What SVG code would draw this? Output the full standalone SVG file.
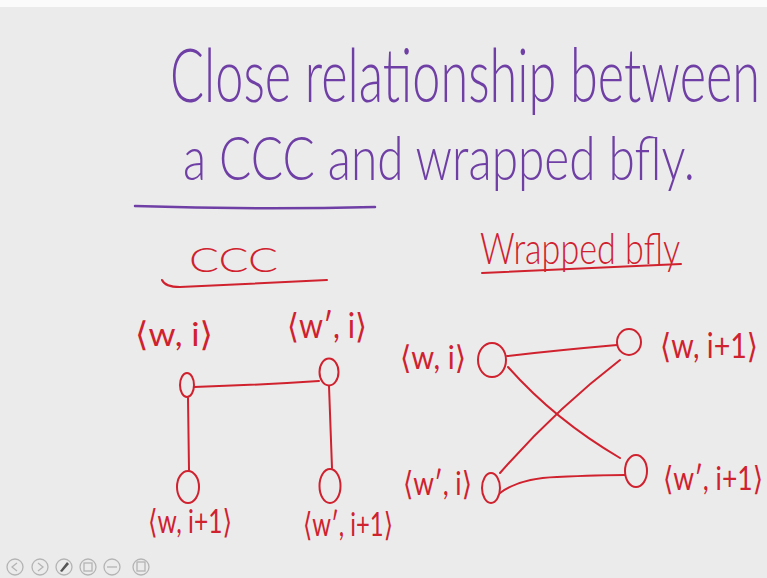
<svg xmlns="http://www.w3.org/2000/svg" width="767" height="578" viewBox="0 0 767 578">
  <style>
    .title { font-family: Lato, "Open Sans", "DejaVu Sans", sans-serif; font-weight: 300; fill: #6f3fa6; }
    .red { font-family: Lato, "Open Sans", "DejaVu Sans", sans-serif; font-weight: 300; fill: #d0212e; }
    .lbl { font-family: Lato, "DejaVu Sans", sans-serif; fill: #d0212e; }
    .edge { fill: none; stroke: #d0212e; stroke-width: 2; stroke-linecap: round; }
    .node { fill: none; stroke: #d0212e; stroke-width: 2; }
    .pline { fill: none; stroke: #6f3fa6; stroke-width: 2.5; stroke-linecap: round; }
    .icon { fill: none; stroke: #b4b4b4; stroke-width: 1.3; }
  </style>

  <!-- page -->
  <rect x="0" y="0" width="767" height="578" fill="#ebebeb"/>
  <rect x="0" y="0" width="767" height="7" fill="#fbfbfb"/>

  <!-- heading: narrow, tall lettering (vertical stretch) -->
  <g id="heading">
    <text class="title" transform="translate(170,102) scale(1,2.0)" font-size="37" textLength="590" lengthAdjust="spacingAndGlyphs">Close relationship between</text>
    <text class="title" transform="translate(183,180) scale(1,1.7)" font-size="36" textLength="512" lengthAdjust="spacingAndGlyphs">a CCC and wrapped bfly.</text>
    <path class="pline" d="M135,206 Q255,210 375,207"/>
  </g>

  <!-- section titles -->
  <g id="title-ccc">
    <text class="red" x="189" y="272" font-size="34" textLength="89" lengthAdjust="spacingAndGlyphs">CCC</text>
    <path class="edge" d="M162,280 Q165,287 180,287 L327,280"/>
  </g>
  <g id="title-bfly">
    <text class="red" transform="translate(480,264) scale(1,1.6)" font-size="27" textLength="200" lengthAdjust="spacingAndGlyphs">Wrapped bfly</text>
    <path class="edge" d="M482,273 Q580,269 681,264"/>
  </g>

  <!-- connectors -->
  <g id="connectors">
    <!-- CCC -->
    <path class="edge" d="M194,387 Q260,385 319,381"/>
    <path class="edge" d="M188,398 L189,470"/>
    <path class="edge" d="M329,386 L332,468"/>
    <!-- wrapped butterfly -->
    <path class="edge" d="M507,356 Q560,350 617,345"/>
    <path class="edge" d="M508,367 Q555,420 620,458"/>
    <path class="edge" d="M500,473 Q555,410 620,360"/>
    <path class="edge" d="M500,493 Q520,478 557,477 Q600,475 625,475"/>
  </g>

  <!-- CCC nodes -->
  <g id="ccc-w-i">
    <ellipse class="node" cx="187" cy="385" rx="7" ry="12"/>
    <text class="lbl" transform="translate(135,346) scale(1,1.6)" font-size="21" textLength="78" lengthAdjust="spacingAndGlyphs">⟨w, i⟩</text>
  </g>
  <g id="ccc-w2-i">
    <ellipse class="node" cx="329" cy="372" rx="9.5" ry="13.5"/>
    <text class="lbl" transform="translate(287,338) scale(1,1.8)" font-size="19" textLength="80" lengthAdjust="spacingAndGlyphs">⟨w′, i⟩</text>
  </g>
  <g id="ccc-w-i1">
    <ellipse class="node" cx="188" cy="487" rx="11" ry="16"/>
    <text class="lbl" transform="translate(148,533) scale(1,1.9)" font-size="17.5" textLength="84" lengthAdjust="spacingAndGlyphs">⟨w, i+1⟩</text>
  </g>
  <g id="ccc-w2-i1">
    <ellipse class="node" cx="330" cy="486" rx="10.5" ry="17"/>
    <text class="lbl" transform="translate(303,536) scale(1,2.0)" font-size="16.5" textLength="90" lengthAdjust="spacingAndGlyphs">⟨w′, i+1⟩</text>
  </g>

  <!-- wrapped butterfly nodes -->
  <g id="bf-w-i">
    <ellipse class="node" cx="492" cy="360" rx="14" ry="17"/>
    <text class="lbl" transform="translate(400,369) scale(1,1.7)" font-size="19" textLength="66" lengthAdjust="spacingAndGlyphs">⟨w, i⟩</text>
  </g>
  <g id="bf-w-i1">
    <ellipse class="node" cx="629" cy="342" rx="12" ry="13"/>
    <text class="lbl" transform="translate(660,358) scale(1,1.7)" font-size="20" textLength="98" lengthAdjust="spacingAndGlyphs">⟨w, i+1⟩</text>
  </g>
  <g id="bf-w2-i">
    <ellipse class="node" cx="491" cy="488" rx="9" ry="15"/>
    <text class="lbl" transform="translate(403,495) scale(1,2.0)" font-size="16.5" textLength="69" lengthAdjust="spacingAndGlyphs">⟨w′, i⟩</text>
  </g>
  <g id="bf-w2-i1">
    <ellipse class="node" cx="636" cy="471" rx="11" ry="16"/>
    <text class="lbl" transform="translate(663,490) scale(1,2.0)" font-size="16.5" textLength="100" lengthAdjust="spacingAndGlyphs">⟨w′, i+1⟩</text>
  </g>

  <!-- player toolbar -->
  <g id="toolbar">
    <circle class="icon" cx="15" cy="567" r="8"/>
    <path class="icon" d="M17,563 L12,567 L17,571"/>
    <circle class="icon" cx="40" cy="567" r="8"/>
    <path class="icon" d="M38,563 L43,567 L38,571"/>
    <circle class="icon" cx="64" cy="567" r="8"/>
    <path d="M60,571 L67,562 L69,564 L62,572 Z" fill="#555"/>
    <circle class="icon" cx="88" cy="567" r="8"/>
    <rect class="icon" x="84" y="563" width="8" height="8"/>
    <circle class="icon" cx="112" cy="567" r="8"/>
    <path class="icon" d="M107,567 L117,567"/>
    <circle class="icon" cx="141" cy="567" r="8"/>
    <rect class="icon" x="137" y="562" width="8" height="9"/>
  </g>
</svg>
